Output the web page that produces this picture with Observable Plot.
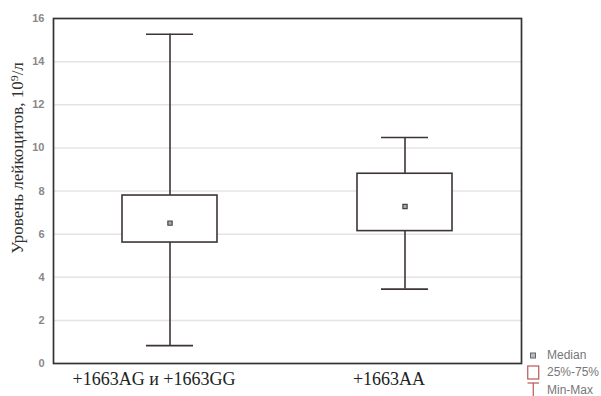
<!DOCTYPE html>
<html>
<head>
<meta charset="utf-8">
<script src="https://cdn.jsdelivr.net/npm/d3@7"></script>
<script src="https://cdn.jsdelivr.net/npm/@observablehq/plot@0.6"></script>
<style>
  html, body { margin: 0; padding: 0; background: #fff; }
  #wrap { position: relative; width: 601px; height: 396px; overflow: hidden; }
  #legend { position: absolute; left: 527px; top: 346px; font-family: "Liberation Sans", Arial, sans-serif; font-size: 12px; color: #777; white-space: nowrap; }
  #legend .row { display: flex; align-items: center; height: 17.5px; }
  #legend svg { margin-right: 6px; flex: none; }
</style>
</head>
<body>
<div id="wrap"><div id="legend"></div></div>
<script>
const categories = ["+1663AG и +1663GG", "+1663AA"];
const mins = [0.83, 3.45];
const q1s = [5.61, 6.14];
const medians = [6.51, 7.28];
const q3s = [7.79, 8.8];
const maxs = [15.27, 10.48];
const yTicks = [0, 2, 4, 6, 8, 10, 12, 14, 16];
const gridTicks = [2, 4, 6, 8, 10, 12, 14];
const yLabel = ["Уровень лейкоцитов, 10⁹/л"];
const legendLabels = ["Median", "25%-75%", "Min-Max"];

const data = categories.map((c, i) => ({cat: c, min: mins[i], q1: q1s[i], median: medians[i], q3: q3s[i], max: maxs[i]}));
const ink = "#3d3535";

const chart = Plot.plot({
  width: 601, height: 396,
  marginLeft: 53, marginRight: 80, marginTop: 18, marginBottom: 33,
  style: {fontFamily: "'Liberation Sans', Arial, sans-serif", background: "transparent"},
  x: {type: "band", domain: categories, paddingInner: 0.596, paddingOuter: 0.2935, axis: null},
  y: {domain: [0, 16], axis: null},
  marks: [
    Plot.ruleY(gridTicks, {stroke: "#e4e4e4", strokeWidth: 1.5}),
    Plot.ruleX(data, {x: "cat", y1: "min", y2: "q1", stroke: ink, strokeWidth: 1.6}),
    Plot.ruleX(data, {x: "cat", y1: "q3", y2: "max", stroke: ink, strokeWidth: 1.6}),
    Plot.tickY(data, {x: "cat", y: "min", insetLeft: 24, insetRight: 24, stroke: ink, strokeWidth: 1.6}),
    Plot.tickY(data, {x: "cat", y: "max", insetLeft: 24, insetRight: 24, stroke: ink, strokeWidth: 1.6}),
    Plot.barY(data, {x: "cat", y1: "q1", y2: "q3", fill: "white", stroke: ink, strokeWidth: 1.6}),
    Plot.dot(data, {x: "cat", y: "median", symbol: "square", r: 2.4, fill: "#aaa", stroke: "#444", strokeWidth: 1.2}),
    Plot.frame({stroke: "#333", strokeWidth: 1.7}),
    Plot.axisY(yTicks, {tickSize: 0, tickPadding: 9, fontSize: 11, fontWeight: "bold", fill: "#888", label: null}),
    Plot.axisX({tickSize: 0, tickPadding: 9, fontSize: 18, fontFamily: "'Liberation Serif', 'Times New Roman', serif", fill: "#222", label: null, dx: -16}),
    Plot.text(yLabel, {frameAnchor: "left", textAnchor: "middle", rotate: -90, dx: -36, dy: -33, fontSize: 17, fontFamily: "'Liberation Serif', 'Times New Roman', serif", fill: "#333"})
  ]
});
document.getElementById("wrap").prepend(chart);

const symbols = [
  '<svg width="14" height="12"><rect x="3.5" y="4" width="5" height="5" fill="#bbb" stroke="#666" stroke-width="1"/></svg>',
  '<svg width="14" height="15"><rect x="0.75" y="1" width="11" height="13" fill="#fff" stroke="#b55" stroke-width="1.2"/></svg>',
  '<svg width="14" height="15"><line x1="0.5" y1="1" x2="12" y2="1" stroke="#b55" stroke-width="1.2"/><line x1="6.25" y1="1" x2="6.25" y2="15" stroke="#b55" stroke-width="1.2"/></svg>'
];
const legend = d3.select("#legend");
legendLabels.forEach((l, i) => {
  const row = legend.append("div").attr("class", "row");
  row.html(symbols[i]);
  row.append("span").text(l);
});
</script>
</body>
</html>
